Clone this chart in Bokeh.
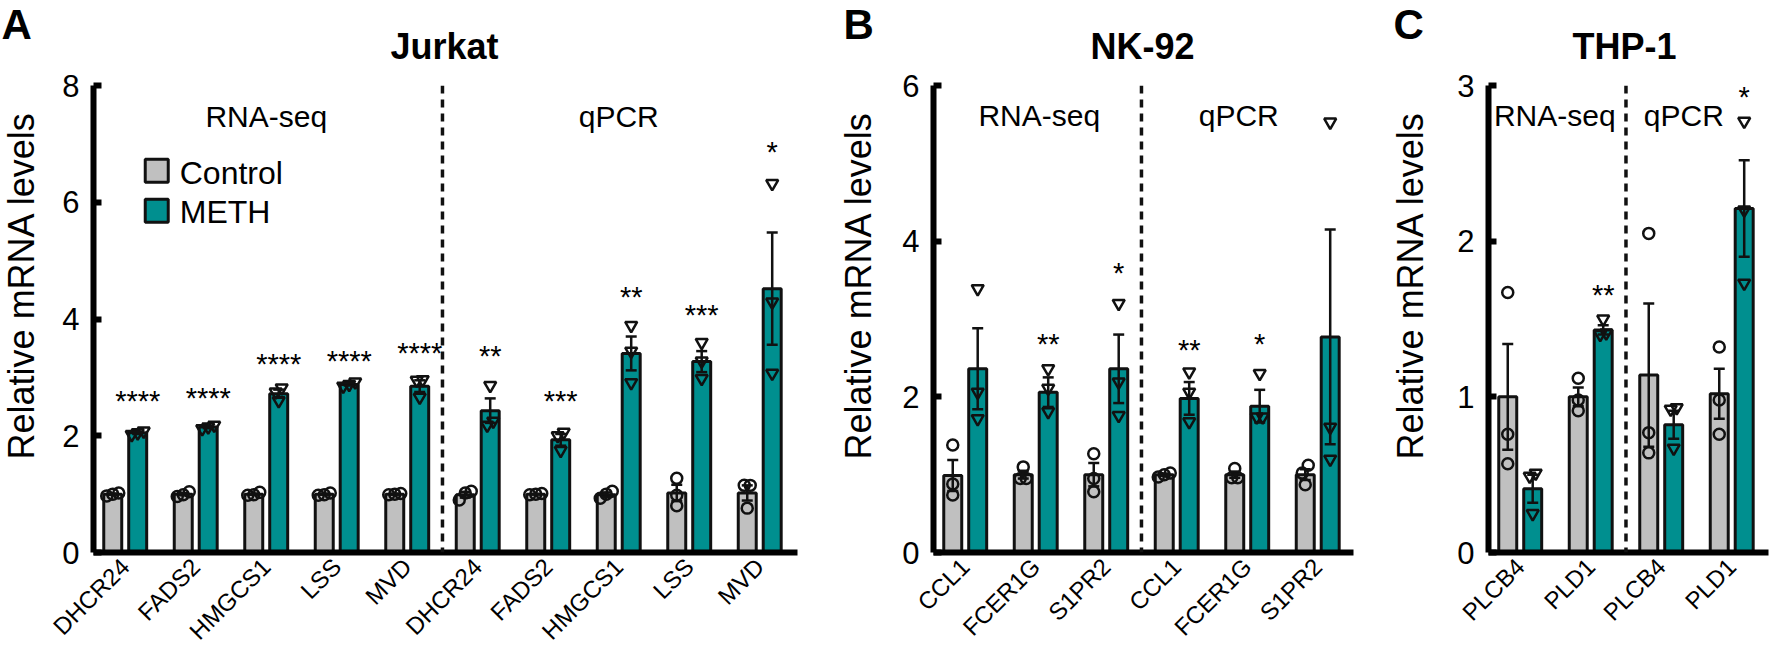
import math
from bokeh.plotting import figure
from bokeh.layouts import row, column
from bokeh.models import ColumnDataSource, FixedTicker, Span, Whisker, TeeHead
from bokeh.core.properties import value
from bokeh.embed import file_html
from bokeh.resources import INLINE

# ---------------- data ----------------
# Panel A - Jurkat
A_genes = ["DHCR24", "FADS2", "HMGCS1", "LSS", "MVD", "DHCR24", "FADS2", "HMGCS1", "LSS", "MVD"]
A_ctrl_mean = [1.0, 1.0, 1.0, 1.0, 1.0, 0.99, 1.0, 0.99, 1.02, 1.02]
A_ctrl_sem = [0.01, 0.02, 0.01, 0.01, 0.01, 0.05, 0.005, 0.04, 0.14, 0.13]
A_ctrl_pts = [[1.0, 0.97, 1.02], [1.04, 0.96, 0.99], [1.03, 0.98, 0.99], [1.02, 0.99, 0.98], [1.0, 1.01, 0.99],
              [1.05, 1.02, 0.9], [1.0, 1.01, 0.99], [1.05, 1.0, 0.93], [1.27, 0.98, 0.8], [1.15, 1.15, 0.76]]
A_meth_mean = [2.05, 2.15, 2.72, 2.88, 2.85, 2.43, 1.93, 3.41, 3.27, 4.52]
A_meth_sem = [0.02, 0.02, 0.07, 0.02, 0.1, 0.21, 0.1, 0.29, 0.18, 0.96]
A_meth_pts = [[2.08, 2.05, 2.02], [2.18, 2.15, 2.12], [2.82, 2.75, 2.6], [2.92, 2.88, 2.85], [2.96, 2.95, 2.66],
              [2.86, 2.25, 2.18], [2.06, 2.0, 1.75], [3.89, 3.45, 2.91], [3.6, 3.28, 2.98], [6.32, 4.29, 3.07]]
A_stars = ["****", "****", "****", "****", "****", "**", "***", "**", "***", "*"]
A_star_y = [2.62, 2.66, 3.24, 3.29, 3.43, 3.38, 2.62, 4.4, 4.09, 6.88]

# Panel B - NK-92
B_genes = ["CCL1", "FCER1G", "S1PR2", "CCL1", "FCER1G", "S1PR2"]
B_ctrl_mean = [0.99, 1.0, 1.0, 1.0, 1.0, 1.0]
B_ctrl_sem = [0.2, 0.05, 0.15, 0.015, 0.04, 0.07]
B_ctrl_pts = [[1.38, 0.88, 0.74], [1.1, 0.95, 0.95], [1.27, 0.95, 0.78],
              [1.02, 1.0, 0.97], [1.08, 0.96, 0.96], [1.12, 1.02, 0.87]]
B_meth_mean = [2.36, 2.06, 2.36, 1.98, 1.88, 2.77]
B_meth_sem = [0.52, 0.19, 0.44, 0.21, 0.21, 1.38]
B_meth_pts = [[3.39, 2.06, 1.72], [2.36, 2.11, 1.81], [3.2, 2.19, 1.76],
              [2.32, 2.06, 1.68], [2.3, 1.74, 1.74], [5.53, 1.61, 1.2]]
B_stars = ["", "**", "*", "**", "*", ""]
B_star_y = [0, 2.69, 3.61, 2.62, 2.69, 0]

# Panel C - THP-1
C_genes = ["PLCB4", "PLD1", "PLCB4", "PLD1"]
C_ctrl_mean = [1.0, 1.0, 1.14, 1.02]
C_ctrl_sem = [0.34, 0.06, 0.46, 0.16]
C_ctrl_pts = [[1.67, 0.76, 0.57], [1.12, 0.98, 0.91], [2.05, 0.77, 0.64], [1.32, 0.98, 0.76]]
C_meth_mean = [0.41, 1.43, 0.82, 2.21]
C_meth_sem = [0.09, 0.03, 0.09, 0.31]
C_meth_pts = [[0.51, 0.49, 0.25], [1.5, 1.41, 1.4], [0.93, 0.92, 0.67], [2.77, 2.2, 1.73]]
C_stars = ["", "**", "", "*"]
C_star_y = [0, 1.66, 0, 2.93]

Y_LABEL = "Relative mRNA levels"
TITLES = ["Jurkat", "NK-92", "THP-1"]
LETTERS = ["A", "B", "C"]

# ---------------- style / layout ----------------
FONT = "Liberation Sans"
CTRL_COLOR = "#c0c0c0"
METH_COLOR = "#008f8f"
EDGE = "#111111"
GROUP_PX = 70.5
FRAME_H = 467
HEAD_H = 66
TOP_B = 19
BOT_B = 96
PANEL_H = TOP_B + FRAME_H + BOT_B
YLAB_W = 45
X0 = -0.45
OFF = 0.177
BAR_W = 0.255


def blank(width, height):
    f = figure(width=width, height=height, x_range=(0, width), y_range=(0, height),
               output_backend="svg", toolbar_location=None, min_border=0,
               x_axis_type=None, y_axis_type=None, outline_line_color=None)
    f.xgrid.visible = False
    f.ygrid.visible = False
    return f


def dodge(vals, ypx, step_px=6.0, thr_px=8.0):
    idx = sorted(range(len(vals)), key=lambda k: vals[k])
    clusters = []
    for k in idx:
        if clusters and (vals[k] - vals[clusters[-1][-1]]) * ypx < thr_px:
            clusters[-1].append(k)
        else:
            clusters.append([k])
    off = [0.0] * len(vals)
    for c in clusters:
        m = len(c)
        for j, k in enumerate(c):
            off[k] = (j - (m - 1) / 2) * step_px / GROUP_PX
    return off


def make_panel(genes, cm, cs, cp, mm, ms, mp, stars, star_y, ymax, yticks, frame_w,
               border_l, border_r, split, sections):
    n = len(genes)
    ypx = FRAME_H / ymax
    p = figure(frame_width=frame_w, frame_height=FRAME_H,
               x_range=(X0, X0 + frame_w / GROUP_PX), y_range=(0, ymax),
               output_backend="svg", toolbar_location=None,
               min_border_left=border_l, min_border_right=border_r,
               min_border_top=TOP_B, min_border_bottom=BOT_B,
               outline_line_color=None)
    p.xgrid.visible = False
    p.ygrid.visible = False

    yax = p.yaxis[0]
    yax.ticker = FixedTicker(ticks=yticks)
    yax.axis_line_width = 6
    yax.axis_line_color = "black"
    yax.major_tick_line_width = 6
    yax.major_tick_line_color = "black"
    yax.major_tick_in = 8
    yax.major_tick_out = 0
    yax.minor_tick_line_color = None
    yax.major_label_text_font = FONT
    yax.major_label_text_font_size = "31px"
    yax.major_label_text_color = "black"
    yax.major_label_standoff = 14

    xax = p.xaxis[0]
    xax.ticker = FixedTicker(ticks=list(range(n)))
    xax.major_label_overrides = {i: g for i, g in enumerate(genes)}
    xax.major_label_orientation = math.pi / 4
    xax.major_tick_line_color = None
    xax.minor_tick_line_color = None
    xax.axis_line_width = 6
    xax.axis_line_color = "black"
    xax.major_label_text_font = FONT
    xax.major_label_text_font_size = "24px"
    xax.major_label_text_color = "black"
    xax.major_label_standoff = 4

    for means, sems, pts, color, sign, marker, msize in (
            (cm, cs, cp, CTRL_COLOR, -1, "circle", 11),
            (mm, ms, mp, METH_COLOR, 1, "inverted_triangle", 12)):
        xs = [i + sign * OFF for i in range(n)]
        src = ColumnDataSource(dict(x=xs, top=means,
                                    lo=[m - s for m, s in zip(means, sems)],
                                    hi=[m + s for m, s in zip(means, sems)]))
        p.vbar(x="x", top="top", width=BAR_W, source=src, fill_color=color,
               line_color=EDGE, line_width=3)
        w = Whisker(source=src, base="x", lower="lo", upper="hi",
                    line_color=EDGE, line_width=2.5, level="annotation",
                    upper_head=TeeHead(size=11, line_color=EDGE, line_width=2.5),
                    lower_head=TeeHead(size=11, line_color=EDGE, line_width=2.5))
        p.add_layout(w)
        px, py = [], []
        for i, vals in enumerate(pts):
            offs = dodge(vals, ypx)
            for v, o in zip(vals, offs):
                px.append(xs[i] + o)
                py.append(v)
        p.scatter(px, py, marker=marker, size=msize, fill_color=None,
                  line_color=EDGE, line_width=2.5)

    sx = [i + OFF for i, s in enumerate(stars) if s]
    sy = [y for s, y in zip(stars, star_y) if s]
    st = [s for s in stars if s]
    p.text(sx, sy, text=st, text_align="center", text_baseline="alphabetic", y_offset=1,
           text_font=value(FONT), text_font_size="29px", text_color="black")

    p.text([s[0] for s in sections], [s[1] for s in sections], text=[s[2] for s in sections],
           text_align="center", text_baseline="alphabetic", y_offset=-10,
           text_font=value(FONT), text_font_size="30px", text_color="black")

    p.add_layout(Span(location=split, dimension="height", line_color=EDGE,
                      line_width=3.5, line_dash="8 6"))
    return p


def ylabel_fig(anchor_x):
    f = blank(YLAB_W, PANEL_H)
    f.text([anchor_x], [PANEL_H - (320 - HEAD_H)], text=[Y_LABEL], angle=math.pi / 2,
           text_align="center", text_baseline="alphabetic",
           text_font=value(FONT), text_font_size="36px", text_color="black")
    return f


pA = make_panel(A_genes, A_ctrl_mean, A_ctrl_sem, A_ctrl_pts, A_meth_mean, A_meth_sem, A_meth_pts,
                A_stars, A_star_y, 8, [0, 2, 4, 6, 8], 704, 48, 41, 4.5,
                [(2, 7.3, "RNA-seq"), (7, 7.3, "qPCR")])
pB = make_panel(B_genes, B_ctrl_mean, B_ctrl_sem, B_ctrl_pts, B_meth_mean, B_meth_sem, B_meth_pts,
                B_stars, B_star_y, 6, [0, 2, 4, 6], 420, 50, 37, 2.5,
                [(1.05, 5.48, "RNA-seq"), (3.88, 5.48, "qPCR")])
pC = make_panel(C_genes, C_ctrl_mean, C_ctrl_sem, C_ctrl_pts, C_meth_mean, C_meth_sem, C_meth_pts,
                C_stars, C_star_y, 3, [0, 1, 2, 3], 280, 53, 1, 1.5,
                [(0.49, 2.74, "RNA-seq"), (2.32, 2.74, "qPCR")])

# legend (panel A)
pA.rect([0.447, 0.447], [6.54, 5.855], width=23, height=23, width_units="screen",
        height_units="screen", fill_color=[CTRL_COLOR, METH_COLOR], line_color=EDGE, line_width=3)
pA.text([0.773, 0.773], [6.32, 5.64], text=["Control", "METH"], text_align="left",
        text_baseline="alphabetic", y_offset=-11,
        text_font=value(FONT), text_font_size="32px", text_color="black")

# header with panel letters and titles
TOTAL_W = 3 * YLAB_W + (48 + 704 + 41) + (50 + 420 + 37) + (53 + 280 + 1)
head = blank(TOTAL_W, HEAD_H)
head.text([1, 843, 1393], [HEAD_H - 38 + 14] * 3, text=LETTERS, text_align="left",
          text_baseline="alphabetic", text_font=value(FONT), text_font_size="42px",
          text_font_style="bold", text_color="black")
head.text([444, 1142, 1624], [HEAD_H - 58 + 12] * 3, text=TITLES, text_align="center",
          text_baseline="alphabetic", text_font=value(FONT), text_font_size="36px",
          text_font_style="bold", text_color="black")

layout = column(head, row(ylabel_fig(21), pA, ylabel_fig(20), pB, ylabel_fig(20), pC))
open("out.html", "w").write(file_html(layout, INLINE))
